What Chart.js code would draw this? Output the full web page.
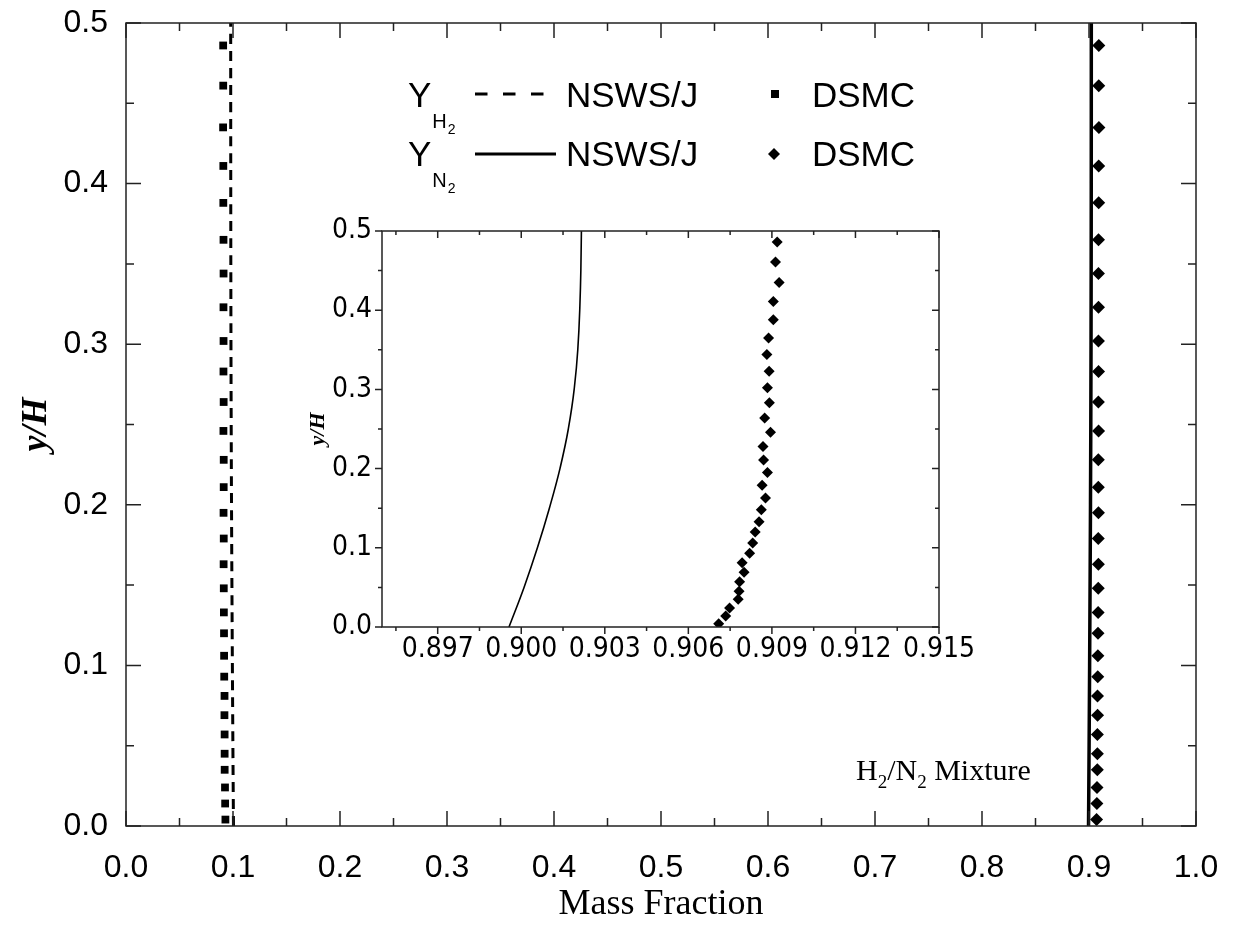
<!DOCTYPE html>
<html>
<head>
<meta charset="utf-8">
<script src="https://cdn.jsdelivr.net/npm/chart.js@4.4.1/dist/chart.umd.min.js"></script>
<style>
  html, body { margin: 0; padding: 0; background: #ffffff; }
  #wrap { position: relative; width: 1233px; height: 926px; background: #ffffff; }
  #wrap canvas { position: absolute; left: 0; top: 0; }
</style>
</head>
<body>
<div id="wrap">
  <canvas id="main" width="1233" height="926"></canvas>
  <canvas id="inset" width="1233" height="926"></canvas>
</div>
<script>
// ---------------- DATA ----------------
// y/H positions of the NSWS/J (continuum) curves
const nswsY = [0, 0.05, 0.1, 0.15, 0.2, 0.25, 0.3, 0.35, 0.4, 0.45, 0.5];
// N2 mass fraction, NSWS/J
const n2NswsX = [0.89956, 0.90010, 0.90058, 0.90101, 0.90139, 0.90169, 0.90190, 0.90203, 0.90210, 0.90214, 0.90216];
// H2 mass fraction, NSWS/J
const h2NswsX = [0.10044, 0.09990, 0.09942, 0.09899, 0.09861, 0.09831, 0.09810, 0.09797, 0.09790, 0.09786, 0.09784];

// y/H positions of the DSMC cells
const dsmcY = [0.004, 0.014, 0.024, 0.035, 0.045, 0.057, 0.069, 0.081, 0.093, 0.106,
               0.120, 0.133, 0.148, 0.163, 0.179, 0.195, 0.211, 0.228, 0.246, 0.264,
               0.283, 0.302, 0.323, 0.344, 0.365, 0.388, 0.411, 0.435, 0.461, 0.486];
// N2 mass fraction, DSMC
const n2DsmcX = [0.90709, 0.90734, 0.90748, 0.90779, 0.90782, 0.90784, 0.90800, 0.90793, 0.90820, 0.90831,
                 0.90840, 0.90854, 0.90862, 0.90877, 0.90865, 0.90884, 0.90870, 0.90868, 0.90895, 0.90874,
                 0.90891, 0.90884, 0.90890, 0.90882, 0.90888, 0.90905, 0.90905, 0.90926, 0.90913, 0.90919];
// H2 mass fraction, DSMC
const h2DsmcX = [0.09291, 0.09266, 0.09252, 0.09221, 0.09218, 0.09216, 0.09200, 0.09207, 0.09180, 0.09169,
                 0.09160, 0.09146, 0.09138, 0.09123, 0.09135, 0.09116, 0.09130, 0.09132, 0.09105, 0.09126,
                 0.09109, 0.09116, 0.09110, 0.09118, 0.09112, 0.09095, 0.09095, 0.09074, 0.09087, 0.09081];

// tick values and labels
const mainXTickValues = [0, 0.05, 0.1, 0.15, 0.2, 0.25, 0.3, 0.35, 0.4, 0.45, 0.5, 0.55, 0.6, 0.65, 0.7, 0.75, 0.8, 0.85, 0.9, 0.95, 1.0];
const mainXTickLabels = ['0.0', '', '0.1', '', '0.2', '', '0.3', '', '0.4', '', '0.5', '', '0.6', '', '0.7', '', '0.8', '', '0.9', '', '1.0'];
const yTickValues = [0, 0.05, 0.1, 0.15, 0.2, 0.25, 0.3, 0.35, 0.4, 0.45, 0.5];
const yTickLabels = ['0.0', '', '0.1', '', '0.2', '', '0.3', '', '0.4', '', '0.5'];
const insetXTickValues = [0.8955, 0.897, 0.8985, 0.900, 0.9015, 0.903, 0.9045, 0.906, 0.9075, 0.909, 0.9105, 0.912, 0.9135, 0.915];
const insetXTickLabels = ['', '0.897', '', '0.900', '', '0.903', '', '0.906', '', '0.909', '', '0.912', '', '0.915'];

// ---------------- HELPERS ----------------
function pts(xs, ys) { return xs.map((x, i) => ({ x: x, y: ys[i] })); }

function drawRich(ctx, x, y, parts) {
  for (const p of parts) {
    ctx.font = p.font;
    const dx = p.dx || 0;
    ctx.fillText(p.t, x + dx, y + (p.dy || 0));
    x += dx + ctx.measureText(p.t).width;
  }
}

function noPad(s) { s.paddingTop = 0; s.paddingBottom = 0; s.paddingLeft = 0; s.paddingRight = 0; }

const frameTicks = {
  id: 'frameTicks',
  afterDatasetsDraw(chart, args, o) {
    const { ctx, chartArea: a, scales } = chart;
    ctx.save();
    ctx.strokeStyle = o.color;
    ctx.lineWidth = o.width;
    ctx.lineCap = 'butt';
    ctx.beginPath();
    ctx.rect(a.left, a.top, a.right - a.left, a.bottom - a.top);
    ctx.stroke();
    ctx.beginPath();
    const xs = scales.x, ys = scales.y;
    xs.ticks.forEach(t => {
      const len = (t.label !== '' ? o.major : o.minor);
      const px = xs.getPixelForValue(t.value);
      ctx.moveTo(px, a.bottom); ctx.lineTo(px, a.bottom + o.dirBottom * len);
      ctx.moveTo(px, a.top); ctx.lineTo(px, a.top + o.dirTop * len);
    });
    ys.ticks.forEach(t => {
      const len = (t.label !== '' ? o.major : o.minor);
      const py = ys.getPixelForValue(t.value);
      ctx.moveTo(a.left, py); ctx.lineTo(a.left + o.dirLeft * len, py);
      ctx.moveTo(a.right, py); ctx.lineTo(a.right + o.dirRight * len, py);
    });
    ctx.stroke();
    ctx.restore();
  }
};

const annotations = {
  id: 'annotations',
  afterDraw(chart) {
    const ctx = chart.ctx;
    ctx.save();
    ctx.fillStyle = '#000';
    ctx.strokeStyle = '#000';
    ctx.textBaseline = 'alphabetic';
    const sans = '"Liberation Sans", Arial, sans-serif';
    const serif = '"Liberation Serif", "Times New Roman", serif';
    // Row 1 : Y_H2  - - -  NSWS/J   ■ DSMC
    drawRich(ctx, 408, 107, [
      { t: 'Y', font: '35px ' + sans },
      { t: 'H', font: '20px ' + sans, dy: 21, dx: 1 },
      { t: '2', font: '14px ' + sans, dy: 27, dx: 1 }
    ]);
    ctx.lineWidth = 3;
    ctx.setLineDash([12.5, 15.5]);
    ctx.beginPath(); ctx.moveTo(475, 94); ctx.lineTo(544, 94); ctx.stroke();
    ctx.setLineDash([]);
    ctx.font = '35px ' + sans;
    ctx.fillText('NSWS/J', 566, 107);
    ctx.fillRect(771, 90, 8, 8);
    ctx.fillText('DSMC', 812, 107);
    // Row 2 : Y_N2  ———  NSWS/J   ◆ DSMC
    drawRich(ctx, 408, 166, [
      { t: 'Y', font: '35px ' + sans },
      { t: 'N', font: '20px ' + sans, dy: 21, dx: 1 },
      { t: '2', font: '14px ' + sans, dy: 27, dx: 1 }
    ]);
    ctx.beginPath(); ctx.moveTo(475, 154); ctx.lineTo(556, 154); ctx.stroke();
    ctx.font = '35px ' + sans;
    ctx.fillText('NSWS/J', 566, 166);
    ctx.beginPath();
    ctx.moveTo(774, 148); ctx.lineTo(780, 154); ctx.lineTo(774, 160); ctx.lineTo(768, 154); ctx.closePath();
    ctx.fill();
    ctx.fillText('DSMC', 812, 166);
    // H2/N2 Mixture
    drawRich(ctx, 856, 780, [
      { t: 'H', font: '30px ' + serif },
      { t: '2', font: '19px ' + serif, dy: 8 },
      { t: '/N', font: '30px ' + serif },
      { t: '2', font: '19px ' + serif, dy: 8 },
      { t: ' Mixture', font: '30px ' + serif }
    ]);
    ctx.restore();
  }
};

// ---------------- MAIN CHART ----------------
const tickFont = { family: '"Liberation Sans", Arial, sans-serif', size: 32 };
new Chart(document.getElementById('main'), {
  type: 'scatter',
  data: {
    datasets: [
      { label: 'Y_H2 NSWS/J', data: pts(h2NswsX, nswsY), showLine: true, borderColor: '#000', borderWidth: 3,
        borderDash: [10, 7], pointRadius: 0, cubicInterpolationMode: 'monotone', fill: false },
      { label: 'Y_H2 DSMC', data: pts(h2DsmcX, dsmcY), showLine: false, pointStyle: 'rect', pointRadius: 5.5,
        backgroundColor: '#000', borderColor: '#000', borderWidth: 0 },
      { label: 'Y_N2 NSWS/J', data: pts(n2NswsX, nswsY), showLine: true, borderColor: '#000', borderWidth: 3.5,
        pointRadius: 0, cubicInterpolationMode: 'monotone', fill: false },
      { label: 'Y_N2 DSMC', data: pts(n2DsmcX, dsmcY), showLine: false, pointStyle: 'rectRot', pointRadius: 6.5,
        backgroundColor: '#000', borderColor: '#000', borderWidth: 0 }
    ]
  },
  options: {
    responsive: false, devicePixelRatio: 1, animation: false,
    layout: { padding: { left: 0, top: 23, right: 37, bottom: 0 } },
    plugins: {
      legend: { display: false }, tooltip: { enabled: false },
      frameTicks: { color: '#222', width: 1.5, major: 15, minor: 8, dirBottom: -1, dirTop: 1, dirLeft: 1, dirRight: -1 }
    },
    scales: {
      x: {
        type: 'linear', min: 0, max: 1,
        afterBuildTicks: s => { s.ticks = mainXTickValues.map(v => ({ value: v })); },
        afterFit: s => { s.height = 100; noPad(s); },
        grid: { display: false, drawTicks: false },
        border: { display: false },
        ticks: { autoSkip: false, maxRotation: 0, minRotation: 0, padding: 23, color: '#000', font: tickFont,
                 callback: (v, i) => mainXTickLabels[i] },
        title: { display: true, text: 'Mass Fraction', color: '#000',
                 font: { family: '"Liberation Serif", "Times New Roman", serif', size: 36, lineHeight: 1.2 },
                 padding: { top: 0, bottom: 0 } }
      },
      y: {
        type: 'linear', min: 0, max: 0.5,
        afterBuildTicks: s => { s.ticks = yTickValues.map(v => ({ value: v })); },
        afterFit: s => { s.width = 126; noPad(s); },
        grid: { display: false, drawTicks: false },
        border: { display: false },
        ticks: { autoSkip: false, padding: 18, color: '#000', font: tickFont,
                 callback: (v, i) => yTickLabels[i] },
        title: { display: true, text: 'y/H', color: '#000',
                 font: { family: '"Liberation Serif", "Times New Roman", serif', size: 36, style: 'italic', weight: 'bold', lineHeight: 1.2 },
                 padding: { top: 15, bottom: 0 } }
      }
    }
  },
  plugins: [frameTicks, annotations]
});

// ---------------- INSET CHART ----------------
const insetFont = { family: '"Liberation Sans Narrow", "DejaVu Sans Condensed", "Liberation Sans", sans-serif', size: 28 };
new Chart(document.getElementById('inset'), {
  type: 'scatter',
  data: {
    datasets: [
      { label: 'Y_N2 NSWS/J', data: pts(n2NswsX, nswsY), showLine: true, borderColor: '#000', borderWidth: 1.6,
        pointRadius: 0, cubicInterpolationMode: 'monotone', fill: false },
      { label: 'Y_N2 DSMC', data: pts(n2DsmcX, dsmcY), showLine: false, pointStyle: 'rectRot', pointRadius: 5.5,
        backgroundColor: '#000', borderColor: '#000', borderWidth: 0 }
    ]
  },
  options: {
    responsive: false, devicePixelRatio: 1, animation: false,
    layout: { padding: { left: 290, top: 231, right: 294, bottom: 249 } },
    plugins: {
      legend: { display: false }, tooltip: { enabled: false },
      frameTicks: { color: '#222', width: 1.5, major: 7, minor: 4, dirBottom: 1, dirTop: 1, dirLeft: -1, dirRight: -1 }
    },
    scales: {
      x: {
        type: 'linear', min: 0.895, max: 0.915,
        afterBuildTicks: s => { s.ticks = insetXTickValues.map(v => ({ value: v })); },
        afterFit: s => { s.height = 50; noPad(s); },
        grid: { display: false, drawTicks: false },
        border: { display: false },
        ticks: { autoSkip: false, maxRotation: 0, minRotation: 0, padding: 6, color: '#000', font: insetFont,
                 callback: (v, i) => insetXTickLabels[i] }
      },
      y: {
        type: 'linear', min: 0, max: 0.5,
        afterBuildTicks: s => { s.ticks = yTickValues.map(v => ({ value: v })); },
        afterFit: s => { s.width = 92; noPad(s); },
        grid: { display: false, drawTicks: false },
        border: { display: false },
        ticks: { autoSkip: false, padding: 10, color: '#000', font: insetFont,
                 callback: (v, i) => yTickLabels[i] },
        title: { display: true, text: 'y/H', color: '#000',
                 font: { family: '"Liberation Serif", "Times New Roman", serif', size: 22, style: 'italic', weight: 'bold', lineHeight: 1.2 },
                 padding: { top: 15, bottom: 0 } }
      }
    }
  },
  plugins: [frameTicks]
});
</script>
</body>
</html>
